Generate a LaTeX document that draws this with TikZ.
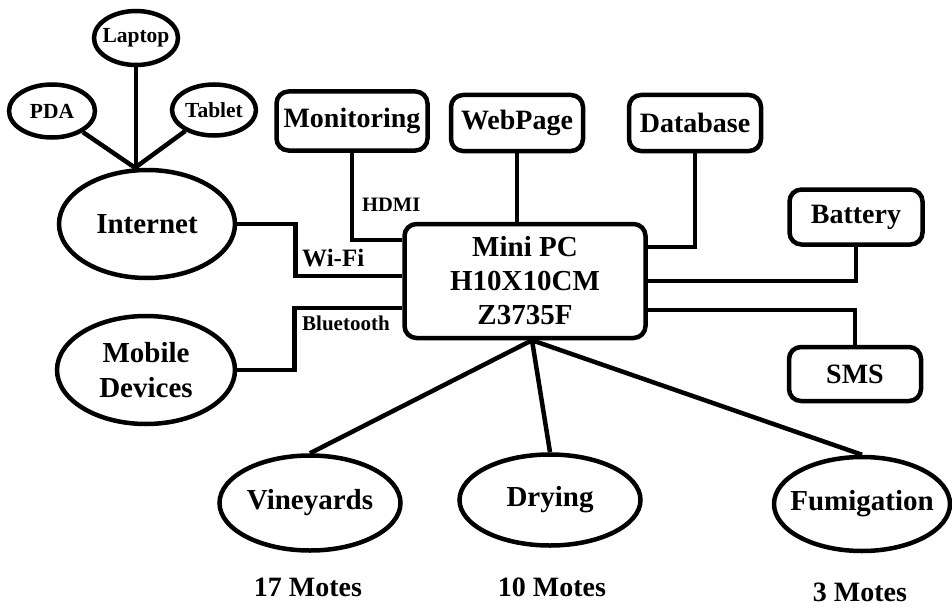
\documentclass[tikz,border=0pt]{standalone}
\usepackage{fontspec}
\setmainfont{Liberation Serif}
\usetikzlibrary{shapes.geometric,positioning}

\begin{document}
\begin{tikzpicture}[x=1pt,y=-1pt,
    ell/.style={ellipse,draw,line width=4.5pt,inner xsep=-15pt,inner ysep=0pt,align=center,font=\bfseries\fontsize{29}{35}\selectfont},
    dev/.style={ellipse,draw,line width=4.5pt,inner xsep=-12pt,inner ysep=0pt,font=\bfseries\fontsize{21.5}{24}\selectfont},
    box/.style={rectangle,rounded corners=12pt,draw,line width=4.5pt,inner sep=2pt,align=center,font=\bfseries\fontsize{28}{34}\selectfont},
    wire/.style={line width=4.5pt},
    tag/.style={anchor=west,inner sep=0pt,font=\bfseries\fontsize{20.5}{24}\selectfont},
    motes/.style={inner sep=0pt,font=\bfseries\fontsize{28}{32}\selectfont}]
    \useasboundingbox (0,0) rectangle (952,607);

    % devices on the internet
    \node[dev,minimum width=84,minimum height=54] (laptop) at (136,38) {Laptop};
    \node[dev,minimum width=86,minimum height=53] (pda) at (52,111) {PDA};
    \node[dev,minimum width=84,minimum height=51] (tablet) at (214,110) {Tablet};
    \node[ell,minimum width=176,minimum height=108] (internet) at (147,224) {Internet};
    \node[ell,minimum width=178,minimum height=108] (mobile) at (146,370) {Mobile\\Devices};

    % the pc and its boxes
    \node[box,minimum width=241,minimum height=114,font=\bfseries\fontsize{29}{34}\selectfont] (mini) at (525,281) {Mini PC\\H10X10CM\\Z3735F};
    \node[box,minimum width=151,minimum height=59] (monitor) at (352,121) {Monitoring};
    \node[box,minimum width=132,minimum height=56] (web) at (517,123) {WebPage};
    \node[box,minimum width=132,minimum height=56] (db) at (695,123) {Database};
    \node[box,minimum width=133,minimum height=55] (battery) at (856,217) {Battery};
    \node[box,minimum width=132,minimum height=54] (sms) at (855,374) {SMS};

    % the three sites
    \node[ell,minimum width=181,minimum height=95] (vine) at (310,503) {Vineyards};
    \node[ell,minimum width=181,minimum height=91] (dry) at (550,500) {Drying};
    \node[ell,minimum width=176,minimum height=94] (fumi) at (862,504) {Fumigation};
    \node[motes] (vine_n) at (308,587) {17 Motes};
    \node[motes] (dry_n) at (552,587) {10 Motes};
    \node[motes] (fumi_n) at (860,592) {3 Motes};

    \node[tag] (hdmi) at (362,205) {HDMI};
    \node[tag,font=\bfseries\fontsize{25}{28}\selectfont] (wifi) at (302,258) {Wi-Fi};
    \node[tag,font=\bfseries\fontsize{21}{24}\selectfont] (bt) at (302,323) {Bluetooth};

    \coordinate (hub) at ([xshift=-12pt]internet.north);
    \coordinate (fan) at ([xshift=7pt]mini.south);

    \draw[wire] (laptop.south) -- (laptop.south |- hub);
    \draw[wire] (pda) -- (hub);
    \draw[wire] (tablet) -- (hub);
    \draw[wire] (monitor.south) |- ([yshift=-18pt]mini.north west);
    \draw[wire] (internet.east) -- ++(58,0) |- ([yshift=5pt]mini.west);
    \draw[wire] (mobile.east) -- ++(57,0) |- ([yshift=-27pt]mini.west);
    \draw[wire] (web.south) -- (web.south |- mini.north);
    \draw[wire] (db.south) |- ([yshift=-25pt]mini.north east);
    \draw[wire] (battery.south) |- (mini.east);
    \draw[wire] (sms.north) |- ([yshift=-29pt]mini.east);
    \draw[wire] (fan) -- (vine.north);
    \draw[wire] (fan) -- (dry.north);
    \draw[wire] (fan) -- (fumi.north);
\end{tikzpicture}
\end{document}
